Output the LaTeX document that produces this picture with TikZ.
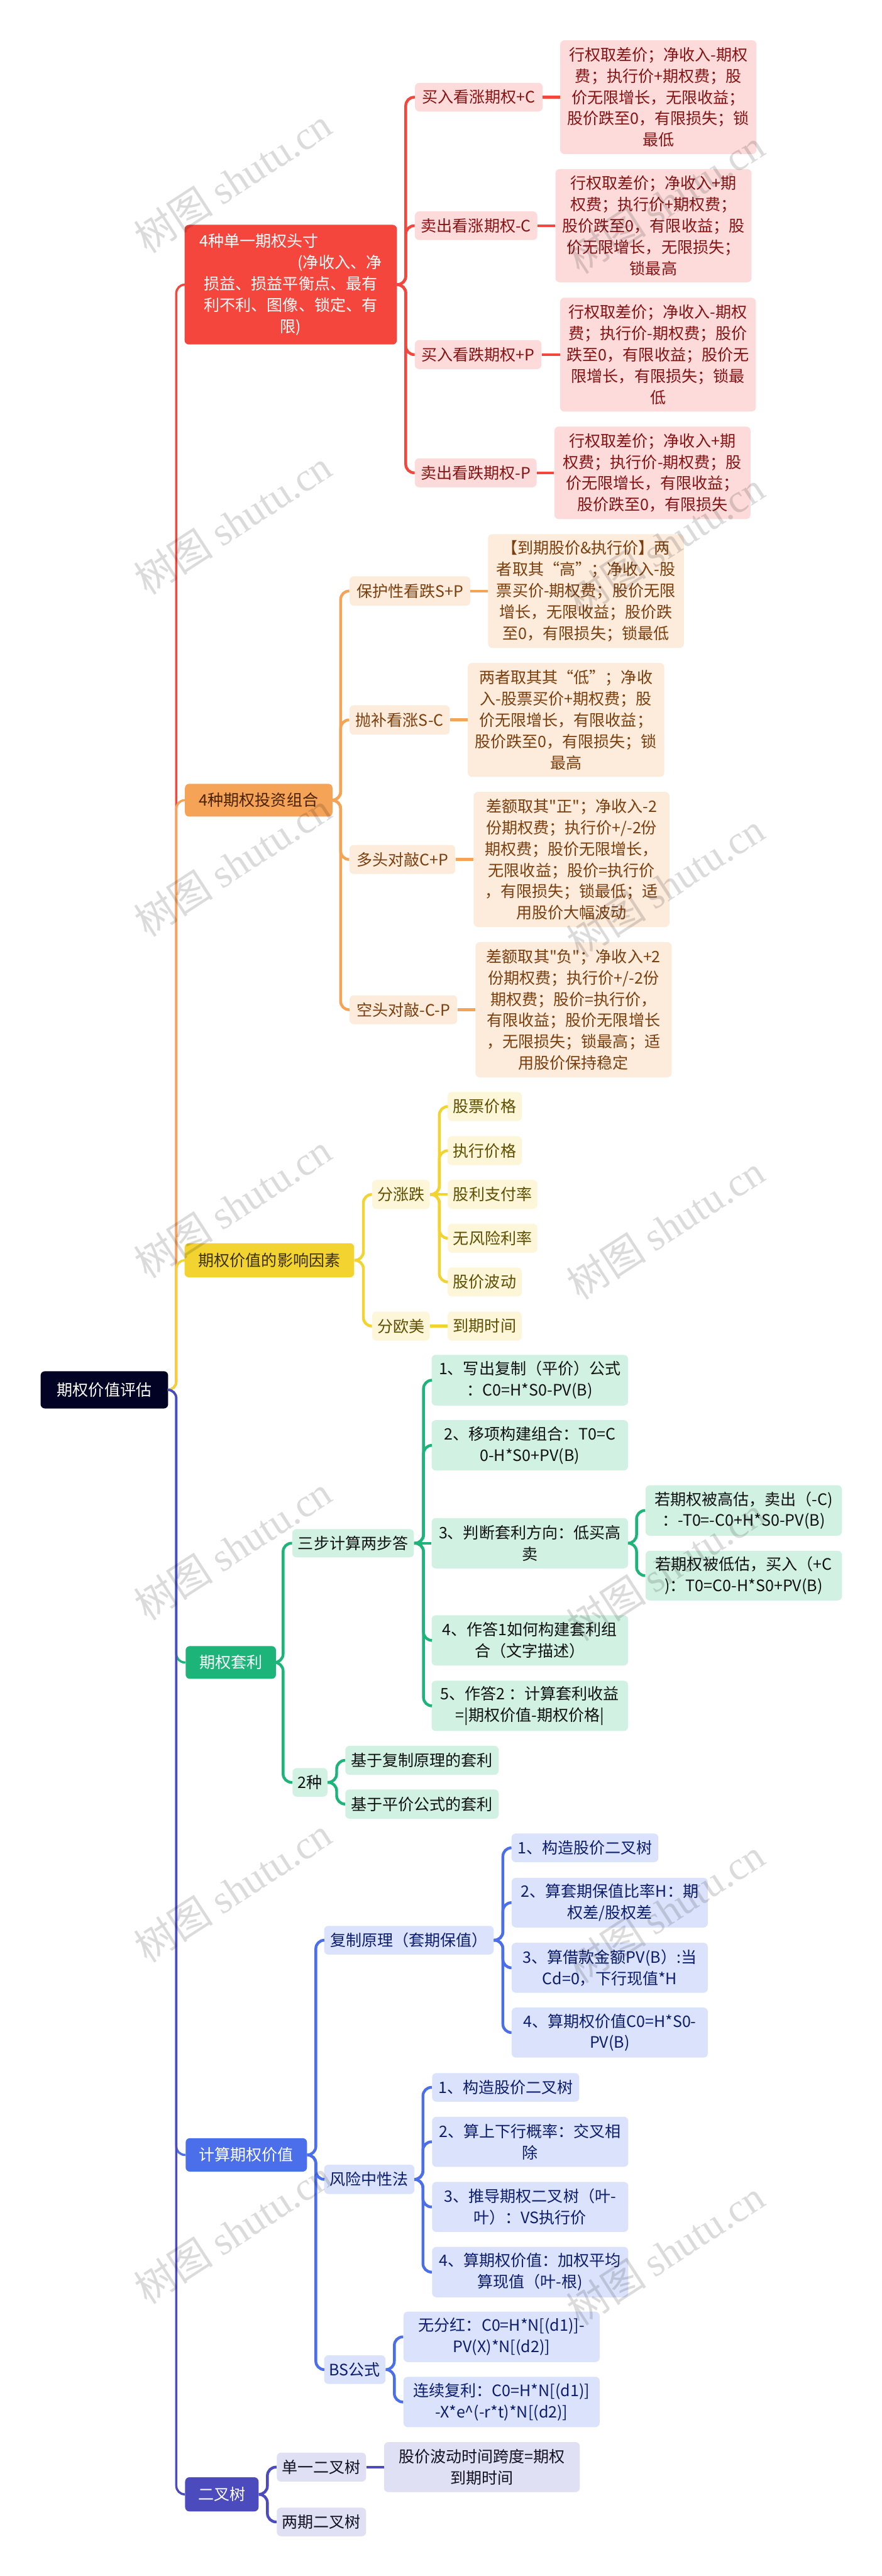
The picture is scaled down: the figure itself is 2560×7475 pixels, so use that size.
\documentclass[tikz,border=0pt]{standalone}
\usepackage{fontspec}
\setmainfont{Noto Sans CJK SC}
\newfontfamily\wmlatin{Liberation Serif}
\definecolor{rootc}{HTML}{020224}
\definecolor{rM}{HTML}{F4463D}
\definecolor{rS}{HTML}{FCDBDA}
\definecolor{rT}{HTML}{861313}
\definecolor{oM}{HTML}{F5A356}
\definecolor{oS}{HTML}{FDEBDC}
\definecolor{oT}{HTML}{7B3F0D}
\definecolor{oMT}{HTML}{4A2200}
\definecolor{yM}{HTML}{F2D330}
\definecolor{yS}{HTML}{FDF6D8}
\definecolor{yT}{HTML}{5E4F00}
\definecolor{yMT}{HTML}{3B3000}
\definecolor{gM}{HTML}{1DB47A}
\definecolor{gS}{HTML}{D1F2E3}
\definecolor{gT}{HTML}{111111}
\definecolor{bM}{HTML}{4B6EEB}
\definecolor{bS}{HTML}{DBE3FC}
\definecolor{bT}{HTML}{0C1D6E}
\definecolor{iM}{HTML}{4B4BBE}
\definecolor{iS}{HTML}{E0E0F4}
\definecolor{iT}{HTML}{111122}
\newcommand\mmfs{\fontsize{13}{17.6}\selectfont}
\newcommand\mmq{\textquotedbl}
\newcommand\mmnode[7]{\node[#1, minimum width=#5cm, minimum height=#6cm] (#2) at (#3,#4) {#7};}
\begin{document}
\begin{tikzpicture}[x=0.01cm,y=-0.01cm,
  base/.style={rectangle, rounded corners=3.5pt, inner sep=0pt, align=center, font=\mmfs},
  rootbox/.style={base, fill=rootc, text=white},
  rmain/.style={base, fill=rM, text=white},
  rsub/.style={base, fill=rS, text=rT},
  omain/.style={base, fill=oM, text=oMT},
  osub/.style={base, fill=oS, text=oT},
  ymain/.style={base, fill=yM, text=yMT},
  ysub/.style={base, fill=yS, text=yT},
  gmain/.style={base, fill=gM, text=white},
  gsub/.style={base, fill=gS, text=gT},
  bmain/.style={base, fill=bM, text=white},
  bsub/.style={base, fill=bS, text=bT},
  imain/.style={base, fill=iM, text=white},
  isub/.style={base, fill=iS, text=iT},
  tl/.style={draw=#1, line width=1.8pt, rounded corners=7pt},
  sl/.style={draw=#1, line width=2.3pt, rounded corners=7pt},
  wm/.style={rotate=33, text=black, text opacity=0.14, inner sep=0pt, font=\fontsize{33}{33}\selectfont}
]
\useasboundingbox (0,0) rectangle (2560,7475);
\fill[white] (0,0) rectangle (2560,7475);

% root
\mmnode{rootbox}{root}{303}{4033}{3.70}{1.08}{期权价值评估}

% red branch
\mmnode{rmain}{rm}{844}{826}{6.16}{3.47}{\makebox[5.28cm][l]{4种单一期权头寸}\\\makebox[5.28cm][r]{(净收入、净}\\损益、损益平衡点、最有\\利不利、图像、锁定、有\\限)}
\mmnode{rsub}{r1}{1390}{282}{3.70}{0.83}{买入看涨期权+C}
\mmnode{rsub}{r1l}{1911}{282}{5.69}{3.30}{行权取差价；净收入-期权\\费；执行价+期权费；股\\价无限增长，无限收益；\\股价跌至0，有限损失；锁\\最低}
\mmnode{rsub}{r2}{1382}{655}{3.55}{0.83}{卖出看涨期权-C}
\mmnode{rsub}{r2l}{1897}{655}{5.69}{3.28}{行权取差价；净收入+期\\权费；执行价+期权费；\\股价跌至0，有限收益；股\\价无限增长，无限损失；\\锁最高}
\mmnode{rsub}{r3}{1388}{1029}{3.67}{0.84}{买入看跌期权+P}
\mmnode{rsub}{r3l}{1910}{1029}{5.68}{3.30}{行权取差价；净收入-期权\\费；执行价-期权费；股价\\跌至0，有限收益；股价无\\限增长，有限损失；锁最\\低}
\mmnode{rsub}{r4}{1381}{1372}{3.53}{0.84}{卖出看跌期权-P}
\mmnode{rsub}{r4l}{1894}{1372}{5.69}{2.68}{行权取差价；净收入+期\\权费；执行价-期权费；股\\价无限增长，有限收益；\\股价跌至0，有限损失}

% orange branch
\mmnode{omain}{om}{751}{2322}{4.28}{0.95}{4种期权投资组合}
\mmnode{osub}{o1}{1190}{1715}{3.50}{0.85}{保护性看跌S+P}
\mmnode{osub}{o1l}{1701}{1715}{5.68}{3.30}{【到期股价\&执行价】两\\者取其“高”；净收入-股\\票买价-期权费；股价无限\\增长，无限收益；股价跌\\至0，有限损失；锁最低}
\mmnode{osub}{o2}{1160}{2089}{2.91}{0.85}{抛补看涨S-C}
\mmnode{osub}{o2l}{1643}{2089}{5.70}{3.30}{两者取其其“低”；净收\\入-股票买价+期权费；股\\价无限增长，有限收益；\\股价跌至0，有限损失；锁\\最高}
\mmnode{osub}{o3}{1168}{2494}{3.07}{0.84}{多头对敲C+P}
\mmnode{osub}{o3l}{1659}{2494}{5.68}{3.92}{差额取其\mmq 正\mmq ；净收入-2\\份期权费；执行价+/-2份\\期权费；股价无限增长，\\无限收益；股价=执行价\\，有限损失；锁最低；适\\用股价大幅波动}
\mmnode{osub}{o4}{1171}{2930}{3.12}{0.84}{空头对敲-C-P}
\mmnode{osub}{o4l}{1665}{2930}{5.69}{3.92}{差额取其\mmq 负\mmq ；净收入+2\\份期权费；执行价+/-2份\\期权费；股价=执行价，\\有限收益；股价无限增长\\，无限损失；锁最高；适\\用股价保持稳定}

% yellow branch
\mmnode{ymain}{ym}{782}{3657}{4.92}{0.99}{期权价值的影响因素}
\mmnode{ysub}{y1}{1164}{3466}{1.67}{0.84}{分涨跌}
\mmnode{ysub}{y2}{1164}{3848}{1.67}{0.84}{分欧美}
\mmnode{ysub}{y11}{1407}{3211}{2.15}{0.84}{股票价格}
\mmnode{ysub}{y12}{1407}{3339}{2.15}{0.84}{执行价格}
\mmnode{ysub}{y13}{1430}{3466}{2.60}{0.84}{股利支付率}
\mmnode{ysub}{y14}{1430}{3593}{2.60}{0.84}{无风险利率}
\mmnode{ysub}{y15}{1407}{3720}{2.15}{0.84}{股价波动}
\mmnode{ysub}{y21}{1407}{3848}{2.15}{0.84}{到期时间}

% green branch
\mmnode{gmain}{gm}{670}{4824}{2.62}{0.95}{期权套利}
\mmnode{gsub}{g1}{1025}{4478}{3.53}{0.82}{三步计算两步答}
\mmnode{gsub}{g11}{1538}{4005}{5.70}{1.47}{1、写出复制（平价）公式\\：C0=H*S0-PV(B)}
\mmnode{gsub}{g12}{1538}{4194}{5.70}{1.46}{2、移项构建组合：T0=C\\0-H*S0+PV(B)}
\mmnode{gsub}{g13}{1538}{4478}{5.70}{1.46}{3、判断套利方向：低买高\\卖}
\mmnode{gsub}{g14}{1538}{4760}{5.70}{1.46}{4、作答1如何构建套利组\\合（文字描述）}
\mmnode{gsub}{g15}{1538}{4950}{5.70}{1.46}{5、作答2 ：计算套利收益\\=|期权价值-期权价格|}
\mmnode{gsub}{g131}{2159}{4383}{5.70}{1.46}{若期权被高估，卖出（-C)\\：-T0=-C0+H*S0-PV(B)}
\mmnode{gsub}{g132}{2159}{4572}{5.70}{1.44}{若期权被低估，买入（+C\\)：T0=C0-H*S0+PV(B)}
\mmnode{gsub}{g2}{900}{5172}{1.01}{0.83}{2种}
\mmnode{gsub}{g21}{1225}{5108}{4.45}{0.84}{基于复制原理的套利}
\mmnode{gsub}{g22}{1225}{5235}{4.45}{0.85}{基于平价公式的套利}

% blue branch
\mmnode{bmain}{bm}{715}{6253}{3.52}{0.97}{计算期权价值}
\mmnode{bsub}{b1}{1187}{5630}{4.92}{0.83}{复制原理（套期保值）}
\mmnode{bsub}{b11}{1698}{5362}{4.26}{0.83}{1、构造股价二叉树}
\mmnode{bsub}{b12}{1770}{5521}{5.69}{1.44}{2、算套期保值比率H：期\\权差/股权差}
\mmnode{bsub}{b13}{1770}{5710}{5.69}{1.45}{3、算借款金额PV(B）:当\\Cd=0，下行现值*H}
\mmnode{bsub}{b14}{1770}{5898}{5.69}{1.45}{4、算期权价值C0=H*S0-\\PV(B)}
\mmnode{bsub}{b2}{1072}{6324}{2.62}{0.85}{风险中性法}
\mmnode{bsub}{b21}{1468}{6057}{4.27}{0.83}{1、构造股价二叉树}
\mmnode{bsub}{b22}{1539}{6215}{5.69}{1.45}{2、算上下行概率：交叉相\\除}
\mmnode{bsub}{b23}{1539}{6404}{5.69}{1.45}{3、推导期权二叉树（叶-\\叶）：VS执行价}
\mmnode{bsub}{b24}{1539}{6593}{5.69}{1.46}{4、算期权价值：加权平均\\算现值（叶-根)}
\mmnode{bsub}{b3}{1030}{6876}{1.78}{0.83}{BS公式}
\mmnode{bsub}{b31}{1456}{6781}{5.69}{1.46}{无分红：C0=H*N[(d1)]-\\PV(X)*N[(d2)]}
\mmnode{bsub}{b32}{1456}{6970}{5.69}{1.46}{连续复利：C0=H*N[(d1)]\\-X*e\textasciicircum(-r*t)*N[(d2)]}

% indigo branch
\mmnode{imain}{im}{644}{7238}{2.13}{0.99}{二叉树}
\mmnode{isub}{i1}{933}{7159}{2.59}{0.84}{单一二叉树}
\mmnode{isub}{i2}{933}{7318}{2.59}{0.83}{两期二叉树}
\mmnode{isub}{i11}{1399}{7159}{5.68}{1.45}{股价波动时间跨度=期权\\到期时间}

% trunk connectors
\draw[tl=rM] (root.east) -- ++(23,0) |- (rm.west);
\draw[tl=oM] (root.east) -- ++(23,0) |- (om.west);
\draw[tl=yM] (root.east) -- ++(23,0) |- (ym.west);
\draw[tl=gM] (root.east) -- ++(23,0) |- (gm.west);
\draw[tl=bM] (root.east) -- ++(23,0) |- (bm.west);
\draw[tl=iM] (root.east) -- ++(23,0) |- (im.west);

% red connectors
\foreach \c in {r1,r2,r3,r4} \draw[sl=rM] (rm.east) -- ++(25,0) |- (\c.west);
\foreach \c in {r1,r2,r3,r4} \draw[sl=rM] (\c.east) -- (\c l.west);

% orange connectors
\foreach \c in {o1,o2,o3,o4} \draw[sl=oM] (om.east) -- ++(23,0) |- (\c.west);
\foreach \c in {o1,o2,o3,o4} \draw[sl=oM] (\c.east) -- (\c l.west);

% yellow connectors
\foreach \c in {y1,y2} \draw[sl=yM] (ym.east) -- ++(26,0) |- (\c.west);
\foreach \c in {y11,y12,y14,y15} \draw[sl=yM] (y1.east) -- ++(27,0) |- (\c.west);
\draw[sl=yM] (y1.east) -- (y13.west);
\draw[sl=yM] (y2.east) -- (y21.west);

% green connectors
\foreach \c in {g1,g2} \draw[sl=gM] (gm.east) -- ++(20,0) |- (\c.west);
\foreach \c in {g11,g12,g14,g15} \draw[sl=gM] (g1.east) -- ++(27,0) |- (\c.west);
\draw[sl=gM] (g1.east) -- (g13.west);
\foreach \c in {g131,g132} \draw[sl=gM] (g13.east) -- ++(24,0) |- (\c.west);
\foreach \c in {g21,g22} \draw[sl=gM] (g2.east) -- ++(26,0) |- (\c.west);

% blue connectors
\foreach \c in {b1,b2,b3} \draw[sl=bM] (bm.east) -- ++(25,0) |- (\c.west);
\foreach \c in {b11,b12,b13,b14} \draw[sl=bM] (b1.east) -- ++(26,0) |- (\c.west);
\foreach \c in {b21,b22,b23,b24} \draw[sl=bM] (b2.east) -- ++(24,0) |- (\c.west);
\foreach \c in {b31,b32} \draw[sl=bM] (b3.east) -- ++(25,0) |- (\c.west);

% indigo connectors
\foreach \c in {i1,i2} \draw[sl=iM] (im.east) -- ++(25,0) |- (\c.west);
\draw[sl=iM] (i1.east) -- (i11.west);

% watermarks
\foreach \yy in {524,1516,2508,3500,4492,5484,6476}
  \node[wm] at (676,\yy) {树图 {\wmlatin shutu.cn}};
\foreach \yy in {585,1577,2569,3561,4553,5545,6537}
  \node[wm] at (1932,\yy) {树图 {\wmlatin shutu.cn}};
\end{tikzpicture}
\end{document}
